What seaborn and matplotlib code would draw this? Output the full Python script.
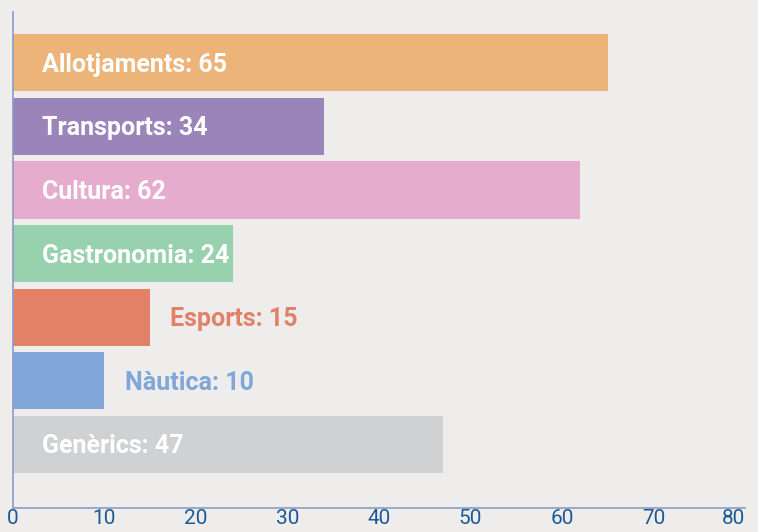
import pandas as pd
import seaborn as sns
import matplotlib.pyplot as plt

# Data
categories = ['Allotjaments', 'Transports', 'Cultura', 'Gastronomia', 'Esports', 'Nàutica', 'Genèrics']
values = [65, 34, 62, 24, 15, 10, 47]
colors = ['#ecb478', '#9a84b9', '#e5acce', '#98d1ad', '#e38068', '#81a6d8', '#d0d1d3']
x_ticks = [0, 10, 20, 30, 40, 50, 60, 70, 80]

df = pd.DataFrame({'cat': categories, 'val': values})

bg = '#eeedeb'
axis_col = '#8a9cc8'
tick_col = '#1d5a94'

sns.set_style('white')
plt.rcParams['font.family'] = ['Roboto', 'DejaVu Sans']

fig = plt.figure(figsize=(7.58, 5.32), dpi=100, facecolor=bg)
ax = fig.add_axes([13/758, 24/532, 732/758, 496/532])
ax.set_facecolor(bg)

sns.barplot(data=df, x='val', y='cat', hue='cat', palette=colors, legend=False,
            width=0.9, saturation=1, linewidth=0, ax=ax, orient='h')

# labels: inside (white) for long bars, outside (bar colour) for short ones
for i, (c, v, col) in enumerate(zip(categories, values, colors)):
    txt = f'{c}: {v}'
    if v >= 20:
        ax.text(3.2, i + 0.03, txt, color='white', fontsize=18, fontweight='bold', va='center', ha='left')
    else:
        ax.text(v + 2.2, i + 0.03, txt, color=col, fontsize=18, fontweight='bold', va='center', ha='left')

ax.set_xlim(0, 80)
ax.set_ylim(7.0, -0.8)
ax.set_xticks(x_ticks)
ax.set_xticklabels([str(t) for t in x_ticks])
ax.set_yticks([3])
ax.set_yticklabels([''])
ax.set_xlabel('')
ax.set_ylabel('')

for s in ['top', 'right']:
    ax.spines[s].set_visible(False)
for s in ['left', 'bottom']:
    ax.spines[s].set_color(axis_col)
    ax.spines[s].set_linewidth(1.2)

ax.tick_params(axis='x', direction='in', length=11, width=1, color=axis_col,
               labelcolor=tick_col, labelsize=15, pad=1)
ax.tick_params(axis='y', direction='in', length=13, width=1, color=axis_col)
# keep the last tick label inside the figure
ax.get_xticklabels()[-1].set_ha('right')

plt.savefig('out.png', dpi=100, facecolor=bg)
